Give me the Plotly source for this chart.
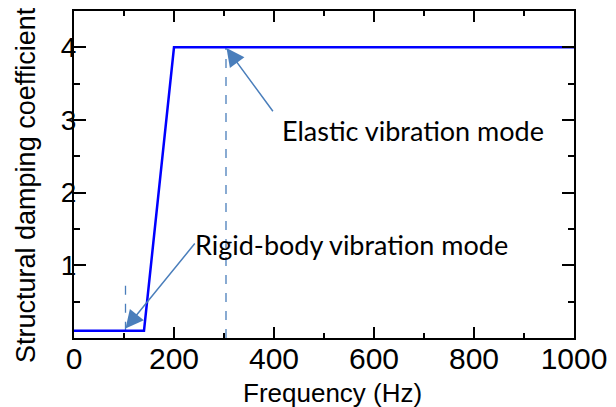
import plotly.graph_objects as go

# Data
freq = [0, 140, 200, 1000]
damping = [0.1, 0.1, 4.0, 4.0]

rigid_marker_freq = [103, 103]
rigid_marker_y = [0.1, 0.72]
elastic_marker_freq = [304, 304]
elastic_marker_y = [0.0, 4.0]

x_ticks = [0, 200, 400, 600, 800, 1000]
y_ticks = [1, 2, 3, 4]

arrow_color = "#4A7EBB"

fig = go.Figure()
fig.add_trace(go.Scatter(x=rigid_marker_freq, y=rigid_marker_y, mode="lines",
                         line=dict(color=arrow_color, width=1.3, dash="dash"), hoverinfo="skip"))
fig.add_trace(go.Scatter(x=elastic_marker_freq, y=elastic_marker_y, mode="lines",
                         line=dict(color=arrow_color, width=1.3, dash="dash"), hoverinfo="skip"))
fig.add_trace(go.Scatter(x=freq, y=damping, mode="lines",
                         line=dict(color="#0000FF", width=2.5)))

ann_font = dict(family="Lato, Carlito, Calibri, sans-serif", size=27, color="black")
arial = "Liberation Sans, Arial"

# Arrows
fig.add_annotation(x=305, y=3.99, ax=400, ay=3.10, xref="x", yref="y", axref="x", ayref="y",
                   text="", showarrow=True, arrowhead=2, arrowsize=2.4, arrowwidth=1.5,
                   arrowcolor=arrow_color)
fig.add_annotation(x=103, y=0.13, ax=244, ay=1.32, xref="x", yref="y", axref="x", ayref="y",
                   text="", showarrow=True, arrowhead=2, arrowsize=2.4, arrowwidth=1.5,
                   arrowcolor=arrow_color)
fig.add_annotation(x=412, y=2.85, xref="x", yref="y", text="Elastic vibration mode",
                   showarrow=False, xanchor="left", font=ann_font)
fig.add_annotation(x=238, y=1.28, xref="x", yref="y", text="Rigid-body vibration mode",
                   showarrow=False, xanchor="left", font=ann_font)

# Axis titles (as annotations for exact placement)
fig.add_annotation(x=-0.096, y=0.468, xref="paper", yref="paper", text="Structural damping coefficient",
                   textangle=-90, showarrow=False, xanchor="center", yanchor="middle",
                   font=dict(family=arial, size=27, color="black"))
fig.add_annotation(x=0.517, y=-0.168, xref="paper", yref="paper", text="Frequency (Hz)",
                   showarrow=False, xanchor="center", yanchor="middle",
                   font=dict(family=arial, size=26, color="black"))

axis_common = dict(showline=True, linecolor="black", linewidth=2, mirror="ticks",
                   ticks="inside", tickcolor="black", tickwidth=1.5, showgrid=False,
                   zeroline=False, automargin=False)

fig.update_xaxes(range=[0, 1000], tickvals=x_ticks, ticklen=11, ticklabelstandoff=-7,
                 tickfont=dict(family=arial, size=30, color="black"),
                 minor=dict(dtick=100, ticklen=5, ticks="inside", tickcolor="black", tickwidth=1.5),
                 **axis_common)
fig.update_yaxes(range=[0, 4.5], tickvals=y_ticks, ticklen=12, ticklabelstandoff=-10,
                 tickfont=dict(family=arial, size=28, color="black"),
                 minor=dict(dtick=0.5, ticklen=6, ticks="inside", tickcolor="black", tickwidth=1.5),
                 **axis_common)

fig.update_layout(width=616, height=407, margin=dict(l=74, r=42, t=11, b=69),
                  plot_bgcolor="white", paper_bgcolor="white", showlegend=False)

fig.write_html("out.html")
